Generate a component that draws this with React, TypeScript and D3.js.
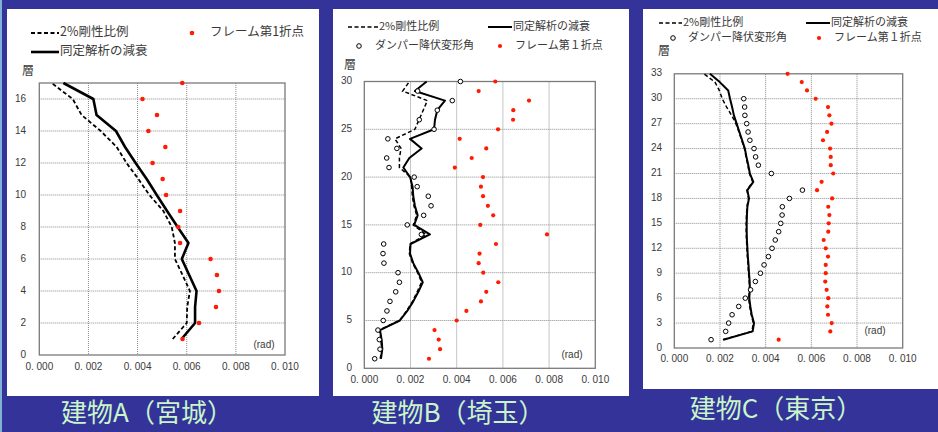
import React from "react";
import * as d3 from "d3";

// ---------- Data (values in rad) ----------
const xTickLabels = ["0. 000", "0. 002", "0. 004", "0. 006", "0. 008", "0. 010"];
const xTickValues = [0, 0.002, 0.004, 0.006, 0.008, 0.01];

// Building A (Miyagi)
const aFloors = [1, 2, 3, 4, 5, 6, 7, 8, 9, 10, 11, 12, 13, 14, 15, 16, 17];
const aIdentified = [0.00579, 0.00634, 0.00634, 0.0064, 0.0061, 0.0058, 0.00607, 0.00563, 0.0052, 0.00478, 0.00437, 0.00392, 0.00349, 0.00312, 0.00233, 0.0022, 0.00098];
const aStiffness = [0.00543, 0.006, 0.00602, 0.00613, 0.00583, 0.00552, 0.00552, 0.00539, 0.00505, 0.00448, 0.00403, 0.00355, 0.00315, 0.0025, 0.00172, 0.00136, 0.0005];
const aFrame = [0.00583, 0.0065, 0.00719, 0.00731, 0.00723, 0.00697, 0.00573, 0.00566, 0.00573, 0.00516, 0.00502, 0.00461, 0.00513, 0.00444, 0.00479, 0.0042, 0.00582];
const aYTicks = [0, 2, 4, 6, 8, 10, 12, 14, 16];

// Building B (Saitama)
const bFloors = [1, 2, 3, 4, 5, 6, 7, 8, 9, 10, 11, 12, 13, 14, 15, 16, 17, 18, 19, 20, 21, 22, 23, 24, 25, 26, 27, 28, 29, 30];
const bIdentified = [0.00072, 0.00078, 0.00075, 0.00068, 0.00154, 0.00186, 0.00212, 0.00234, 0.00253, 0.00234, 0.00212, 0.00198, 0.002, 0.00284, 0.00216, 0.00231, 0.00219, 0.00212, 0.00209, 0.00198, 0.00169, 0.00195, 0.00248, 0.00198, 0.00302, 0.00306, 0.00316, 0.00349, 0.00219, 0.0027];
const bStiffness = [0.00069, 0.00075, 0.00072, 0.00065, 0.00152, 0.00183, 0.00209, 0.00229, 0.00248, 0.00231, 0.00209, 0.00195, 0.00198, 0.00267, 0.00212, 0.00227, 0.00215, 0.00208, 0.00205, 0.002, 0.00152, 0.00152, 0.00159, 0.00133, 0.00219, 0.00237, 0.00255, 0.00273, 0.00166, 0.00195];
const bDamper = [0.00045, 0.00068, 0.00065, 0.00059, 0.00082, 0.00098, 0.00111, 0.00136, 0.00152, 0.00146, 0.00085, 0.00081, 0.00084, 0.00247, 0.00186, 0.00257, 0.00289, 0.00277, 0.00229, 0.00216, 0.00107, 0.00097, 0.00141, 0.00102, 0.00302, 0.00238, 0.00316, 0.00381, 0.00231, 0.00416];
const bFrame = [0.0028, 0.00328, 0.00322, 0.00304, 0.004, 0.00442, 0.00505, 0.00528, 0.0058, 0.00515, 0.00495, 0.00499, 0.0057, 0.00791, 0.00502, 0.00558, 0.00535, 0.00514, 0.00505, 0.00514, 0.00392, 0.00465, 0.00528, 0.00413, 0.00579, 0.00644, 0.00645, 0.00713, 0.00495, 0.00567];
const bYTicks = [0, 5, 10, 15, 20, 25, 30];

// Building C (Tokyo)
const cFloors = [1, 2, 3, 4, 5, 6, 7, 8, 9, 10, 11, 12, 13, 14, 15, 16, 17, 18, 19, 20, 21, 22, 23, 24, 25, 26, 27, 28, 29, 30, 31, 32, 33];
const cIdentified = [0.00215, 0.00343, 0.00349, 0.00339, 0.00333, 0.00328, 0.00331, 0.0033, 0.00327, 0.00325, 0.00322, 0.0032, 0.00318, 0.00317, 0.00317, 0.00318, 0.0032, 0.00327, 0.0032, 0.00346, 0.00331, 0.00324, 0.00316, 0.00309, 0.00297, 0.00285, 0.00273, 0.00261, 0.00253, 0.00244, 0.00236, 0.00199, 0.00156];
const cStiffness = [0.00213, 0.0034, 0.00346, 0.00337, 0.0033, 0.00326, 0.00329, 0.00328, 0.00325, 0.00323, 0.0032, 0.00318, 0.00316, 0.00315, 0.00315, 0.00316, 0.00318, 0.00325, 0.00318, 0.00343, 0.00329, 0.00322, 0.00314, 0.00307, 0.00295, 0.00283, 0.0027, 0.00251, 0.00229, 0.0021, 0.00197, 0.00178, 0.0013];
const cDamperFloors = [1, 2, 3, 4, 5, 6, 7, 8, 9, 10, 11, 12, 13, 14, 15, 16, 17, 18, 19, 21, 22, 23, 24, 25, 26, 27, 28, 29, 30];
const cDamper = [0.00161, 0.00225, 0.00238, 0.00253, 0.00282, 0.00311, 0.00334, 0.00355, 0.00377, 0.00393, 0.00412, 0.00428, 0.00442, 0.00457, 0.00466, 0.00472, 0.00473, 0.00504, 0.00561, 0.00425, 0.00368, 0.00356, 0.00349, 0.00331, 0.00323, 0.00317, 0.00309, 0.00308, 0.00304];
const cFrame = [0.00457, 0.00683, 0.00689, 0.00673, 0.0067, 0.00674, 0.00667, 0.00661, 0.00663, 0.00663, 0.00673, 0.00663, 0.00654, 0.00674, 0.00676, 0.00679, 0.00674, 0.00691, 0.00625, 0.00645, 0.00696, 0.00685, 0.00685, 0.00682, 0.00651, 0.00669, 0.00688, 0.00679, 0.00673, 0.00619, 0.00581, 0.00558, 0.00496];
const cYTicks = [0, 3, 6, 9, 12, 15, 18, 21, 24, 27, 30, 33];

const legStiffness = "2%剛性比例";
const legIdentified = "同定解析の減衰";
const legDamper = "ダンパー降伏変形角";
const legFrameA = "フレーム第1折点";
const legFrameBC = "フレーム第１折点";
const floorLabel = "層";
const unitLabel = "(rad)";
const titles = ["建物A（宮城）", "建物B（埼玉）", "建物C（東京）"];

const BG = "#333399";
const TXT = "#3a3a3a";
const JP = "'Noto Sans CJK JP', 'Noto Sans', sans-serif";
const NUM = "'Liberation Sans', Arial, sans-serif";

type Pt = { f: number; v: number };
const zip = (fs: number[], vs: number[]): Pt[] => fs.map((f, i) => ({ f, v: vs[i] }));

type PanelProps = {
  box: [number, number, number, number];
  plot: { l: number; r: number; t: number; b: number };
  yMax: number;
  yTicks: number[];
  ident: Pt[];
  stiff: Pt[];
  damper?: Pt[];
  frame: Pt[];
  lw: number;
  dw: number;
  dotR: number;
  xLabelY: number;
  yLabelX: number;
  radPos: [number, number];
  floorPos: [number, number];
  title: string;
  titlePos: [number, number];
  legend: React.ReactNode;
  tickFont: number;
};

function Panel(p: PanelProps) {
  const x = d3.scaleLinear().domain([0, 0.01]).range([p.plot.l, p.plot.r]);
  const y = d3.scaleLinear().domain([0, p.yMax]).range([p.plot.b, p.plot.t]);
  const line = d3
    .line<Pt>()
    .x((d) => x(d.v))
    .y((d) => y(d.f));
  return (
    <g>
      <rect x={p.box[0]} y={p.box[1]} width={p.box[2]} height={p.box[3]} fill="#ffffff" />
      {/* grid */}
      {xTickValues.slice(1, -1).map((t) => (
        <line key={"gx" + t} x1={x(t)} x2={x(t)} y1={p.plot.t} y2={p.plot.b} stroke="#8a8a8a" strokeWidth={1} strokeDasharray="1,1" />
      ))}
      {p.yTicks.slice(1).map((t) =>
        t < p.yMax ? (
          <line key={"gy" + t} x1={p.plot.l} x2={p.plot.r} y1={y(t)} y2={y(t)} stroke="#8a8a8a" strokeWidth={1} strokeDasharray="1,1" />
        ) : null
      )}
      <rect x={p.plot.l} y={p.plot.t} width={p.plot.r - p.plot.l} height={p.plot.b - p.plot.t} fill="none" stroke="#7a7a7a" strokeWidth={1.3} />
      {/* ticks */}
      {xTickValues.map((t, i) => (
        <text key={"xl" + t} x={x(t)} y={p.xLabelY} textAnchor="middle" dominantBaseline="middle" fontFamily={NUM} fontSize={p.tickFont} fill={TXT}>
          {xTickLabels[i]}
        </text>
      ))}
      {p.yTicks.map((t) => (
        <text key={"yl" + t} x={p.yLabelX} y={y(t)} textAnchor="end" dominantBaseline="middle" fontFamily={NUM} fontSize={p.tickFont} fill={TXT}>
          {t}
        </text>
      ))}
      <text x={p.radPos[0]} y={p.radPos[1]} textAnchor="middle" dominantBaseline="middle" fontFamily={NUM} fontSize={p.tickFont} fill={TXT}>
        {unitLabel}
      </text>
      <text x={p.floorPos[0]} y={p.floorPos[1]} textAnchor="middle" dominantBaseline="middle" fontFamily={JP} fontSize={12} fill={TXT}>
        {floorLabel}
      </text>
      {/* series */}
      <path d={line(p.stiff) || ""} fill="none" stroke="#000" strokeWidth={p.dw} strokeDasharray="4,2.5" />
      <path d={line(p.ident) || ""} fill="none" stroke="#000" strokeWidth={p.lw} strokeLinejoin="round" />
      {p.damper &&
        p.damper.map((d, i) => (
          <circle key={"dm" + i} cx={x(d.v)} cy={y(d.f)} r={2.3} fill="#fff" stroke="#000" strokeWidth={1} />
        ))}
      {p.frame.map((d, i) => (
        <circle key={"fr" + i} cx={x(d.v)} cy={y(d.f)} r={p.dotR} fill="#ff1a00" />
      ))}
      {p.legend}
      <text x={p.titlePos[0]} y={p.titlePos[1]} textAnchor="middle" dominantBaseline="middle" fontFamily={JP} fontSize={26} fill="#c9f5c9">
        {p.title}
      </text>
    </g>
  );
}

function LegLine({ x1, x2, y, dashed, w, label, fs }: { x1: number; x2: number; y: number; dashed: boolean; w: number; label: string; fs: number }) {
  return (
    <g>
      <line x1={x1} x2={x2} y1={y} y2={y} stroke="#000" strokeWidth={w} strokeDasharray={dashed ? "4,2.5" : undefined} />
      <text x={x2 + 1} y={y} dominantBaseline="middle" fontFamily={JP} fontSize={fs} fill={TXT}>
        {label}
      </text>
    </g>
  );
}

function LegDot({ cx, y, tx, open, label, fs, r }: { cx: number; y: number; tx: number; open: boolean; label: string; fs: number; r: number }) {
  return (
    <g>
      {open ? <circle cx={cx} cy={y} r={2.3} fill="#fff" stroke="#000" strokeWidth={1} /> : <circle cx={cx} cy={y} r={r} fill="#ff1a00" />}
      <text x={tx} y={y} dominantBaseline="middle" fontFamily={JP} fontSize={fs} fill={TXT}>
        {label}
      </text>
    </g>
  );
}

export default function App() {
  return (
    <svg width={938} height={432} style={{ position: "absolute", left: 0, top: 0, display: "block" }}>
      <rect x={0} y={0} width={938} height={432} fill={BG} />
      <rect x={0} y={0} width={2} height={432} fill="#7fb3d6" />
      <Panel
        box={[7, 9, 312, 387]}
        plot={{ l: 39.3, r: 285, t: 83, b: 355 }}
        yMax={17}
        yTicks={aYTicks}
        ident={zip(aFloors, aIdentified)}
        stiff={zip(aFloors, aStiffness)}
        frame={zip(aFloors, aFrame)}
        lw={2.6}
        dw={1.8}
        dotR={2.3}
        xLabelY={367}
        yLabelX={26}
        radPos={[264, 345]}
        floorPos={[28, 72]}
        title={titles[0]}
        titlePos={[147, 415]}
        tickFont={10}
        legend={
          <g>
            <LegLine x1={31} x2={59} y={33} dashed w={1.8} label={legStiffness} fs={12.5} />
            <LegLine x1={31} x2={59} y={52} dashed={false} w={2.6} label={legIdentified} fs={12.5} />
            <LegDot cx={192} y={33} tx={210} open={false} label={legFrameA} fs={12.5} r={2.3} />
          </g>
        }
      />
      <Panel
        box={[333, 9, 296, 387]}
        plot={{ l: 364.3, r: 595.3, t: 81.5, b: 368.3 }}
        yMax={30}
        yTicks={bYTicks}
        ident={zip(bFloors, bIdentified)}
        stiff={zip(bFloors, bStiffness)}
        damper={zip(bFloors, bDamper)}
        frame={zip(bFloors, bFrame)}
        lw={2}
        dw={1.5}
        dotR={2.1}
        xLabelY={380}
        yLabelX={352}
        radPos={[572, 355]}
        floorPos={[350, 66]}
        title={titles[1]}
        titlePos={[458, 415]}
        tickFont={10}
        legend={
          <g>
            <LegLine x1={348} x2={378} y={27} dashed w={1.5} label={legStiffness} fs={11} />
            <LegLine x1={488} x2={512} y={27} dashed={false} w={2} label={legIdentified} fs={11} />
            <LegDot cx={359} y={46} tx={375} open label={legDamper} fs={11} r={2.1} />
            <LegDot cx={500} y={46} tx={515} open={false} label={legFrameBC} fs={11} r={2.1} />
          </g>
        }
      />
      <Panel
        box={[643, 9, 295, 380]}
        plot={{ l: 674.3, r: 902.7, t: 73.8, b: 348 }}
        yMax={33}
        yTicks={cYTicks}
        ident={zip(cFloors, cIdentified)}
        stiff={zip(cFloors, cStiffness)}
        damper={zip(cDamperFloors, cDamper)}
        frame={zip(cFloors, cFrame)}
        lw={2}
        dw={1.5}
        dotR={2.1}
        xLabelY={359}
        yLabelX={662}
        radPos={[875, 331]}
        floorPos={[664, 52]}
        title={titles[2]}
        titlePos={[776, 411]}
        tickFont={10}
        legend={
          <g>
            <LegLine x1={659} x2={682} y={23} dashed w={1.5} label={legStiffness} fs={11} />
            <LegLine x1={806} x2={830} y={23} dashed={false} w={2} label={legIdentified} fs={11} />
            <LegDot cx={673} y={38} tx={688} open label={legDamper} fs={11} r={2.1} />
            <LegDot cx={819} y={38} tx={834} open={false} label={legFrameBC} fs={11} r={2.1} />
          </g>
        }
      />
    </svg>
  );
}
